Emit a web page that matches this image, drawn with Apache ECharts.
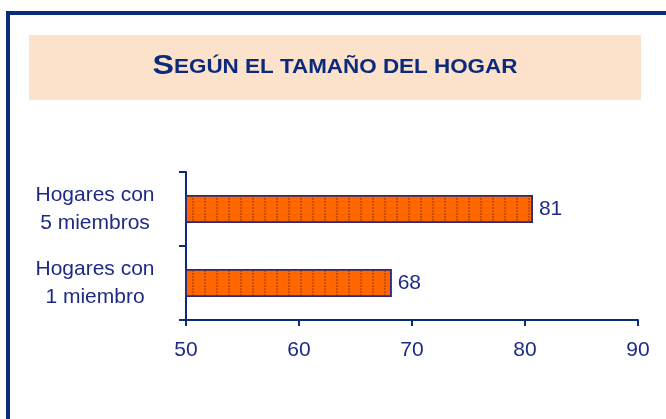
<!DOCTYPE html>
<html>
<head>
<meta charset="utf-8">
<script src="https://cdn.jsdelivr.net/npm/echarts@6/dist/echarts.min.js"></script>
<style>
html, body { margin: 0; padding: 0; background: #fff; }
#chart { width: 666px; height: 419px; }
</style>
</head>
<body>
<div id="chart"></div>
<script>
// categories bottom to top, as drawn on the y axis
var categories = ['Hogares con\n1 miembro', 'Hogares con\n5 miembros'];
var values = [68.2, 80.7];
var value_labels = ['68', '81'];
var x_ticks = [50, 60, 70, 80, 90];

var navy = '#0b2a7c';
var text_color = '#1d2b86';

var chart_obj = echarts.init(document.getElementById('chart'));

var option = {
    backgroundColor: '#ffffff',
    animation: false,
    graphic: [
        {
            type: 'rect',
            shape: {x: 8, y: 13, width: 720, height: 500},
            style: {fill: 'none', stroke: navy, lineWidth: 4},
            silent: true
        },
        {
            type: 'rect',
            shape: {x: 29, y: 35, width: 612, height: 65},
            style: {fill: '#fde2cb'},
            silent: true
        },
        {
            type: 'text',
            x: 335,
            y: 66,
            scaleX: 1.15,
            style: {
                text: '{big|S}{small|EGÚN EL TAMAÑO DEL HOGAR}',
                align: 'center',
                verticalAlign: 'middle',
                rich: {
                    big: {fontFamily: 'Liberation Sans, Arial', fontWeight: 'bold',
                        fontSize: 28, fill: navy},
                    small: {fontFamily: 'Liberation Sans, Arial', fontWeight: 'bold',
                        fontSize: 19.5, fill: navy, padding: [4, 0, 0, 0]}
                }
            }
        }
    ],
    grid: {left: 186, right: 28, top: 172, bottom: 99, containLabel: false},
    xAxis: {
        type: 'value',
        min: x_ticks[0],
        max: x_ticks[x_ticks.length - 1],
        interval: 10,
        axisLine: {show: true, lineStyle: {color: navy, width: 2}},
        axisTick: {show: true, length: 6, lineStyle: {color: navy, width: 2}},
        splitLine: {show: false},
        axisLabel: {
            color: text_color, fontFamily: 'Liberation Sans, Arial', fontSize: 21, margin: 20
        }
    },
    yAxis: {
        type: 'category',
        data: categories,
        axisLine: {show: true, lineStyle: {color: navy, width: 2}},
        axisTick: {show: true, length: 7, lineStyle: {color: navy, width: 2}},
        axisLabel: {
            color: text_color, fontFamily: 'Liberation Sans, Arial', fontSize: 21,
            align: 'center', margin: 91, lineHeight: 28
        }
    },
    series: [
        {
            type: 'bar',
            data: values,
            barWidth: 28,
            itemStyle: {
                color: '#ff6600',
                borderColor: '#2a2a7a',
                borderWidth: 1.5,
                decal: {
                    symbol: 'rect',
                    symbolSize: 1,
                    color: 'rgba(150,60,20,0.55)',
                    dashArrayX: [2, 10],
                    dashArrayY: [2, 1],
                    rotation: 0
                }
            },
            label: {
                show: true,
                position: 'right',
                distance: 6,
                color: text_color,
                fontFamily: 'Liberation Sans, Arial',
                fontSize: 21,
                formatter: function (p) { return value_labels[p.dataIndex]; }
            }
        }
    ]
};
chart_obj.setOption(option);
</script>
</body>
</html>
